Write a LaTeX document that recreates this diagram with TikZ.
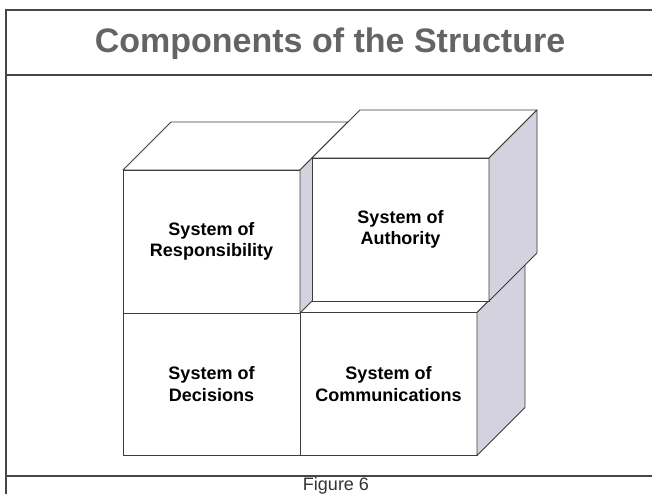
\documentclass[tikz,border=0pt]{standalone}
\usepackage{fontspec}
\setmainfont{Liberation Sans}
\usepackage{xcolor}
\usepackage{tikz}
\usetikzlibrary{calc}
\definecolor{sidecolor}{RGB}{212,210,222}
\definecolor{titlegray}{RGB}{100,100,100}
\definecolor{edgecolor}{RGB}{60,60,60}
\definecolor{rulecolor}{RGB}{70,70,70}

\begin{document}
\begin{tikzpicture}[
    x=1pt, y=1pt,
    face/.style={draw=edgecolor, fill=white, line width=0.9pt, minimum width=177pt, minimum height=143pt, inner sep=0pt, outer sep=0pt, align=center, font=\fontsize{18}{21.5}\selectfont\bfseries},
    topface/.style={draw=edgecolor, fill=white, line width=0.9pt, line join=round},
    sideface/.style={draw=edgecolor, fill=sidecolor, line width=0.9pt, line join=round},
    rule/.style={draw=rulecolor, line width=1.5pt}
]
    \useasboundingbox (0,0) rectangle (652,494);

    % Frame and title band
    \draw[rule, line width=2.4pt] (6,-2) -- (6,484) -- (654,484);
    \draw[rule] (6,419) -- (654,419);
    \draw[rule] (6,18) -- (654,18);
    \node[font=\fontsize{34}{40}\selectfont\bfseries, text=titlegray, anchor=base] (title) at (330,441) {Components of the Structure};

    % Lower row
    \node[face] (dec) at (211.5,110) {System of\\Decisions};
    \node[face] (comm) at (388.5,110) {System of\\Communications};
    \filldraw[topface] (comm.north west) -- (comm.north east) -- ++(48,48) -- ($(comm.north west)+(48,48)$) -- cycle;
    \filldraw[sideface] (comm.north east) -- ++(48,48) -- ($(comm.south east)+(48,48)$) -- (comm.south east) -- cycle;

    % Upper row
    \node[face] (resp) at (211.5,252.5) {System of\\Responsibility};
    \filldraw[topface] (resp.north west) -- (resp.north east) -- ++(48,48) -- ($(resp.north west)+(48,48)$) -- cycle;
    \filldraw[sideface] (resp.south east) -- ++(48,48) -- ($(resp.north east)+(48,48)$) -- (resp.north east) -- cycle;

    % Authority block, set back a little
    \node[face] (auth) at (400.5,264.5) {System of\\Authority};
    \filldraw[topface] (auth.north west) -- (auth.north east) -- ++(48,48) -- ($(auth.north west)+(48,48)$) -- cycle;
    \filldraw[sideface] (auth.north east) -- ++(48,48) -- ($(auth.south east)+(48,48)$) -- (auth.south east) -- cycle;

    % Caption
    \node[font=\fontsize{18}{22}\selectfont, text=black!80, anchor=base] (caption) at (336,3.5) {Figure 6};
\end{tikzpicture}
\end{document}
